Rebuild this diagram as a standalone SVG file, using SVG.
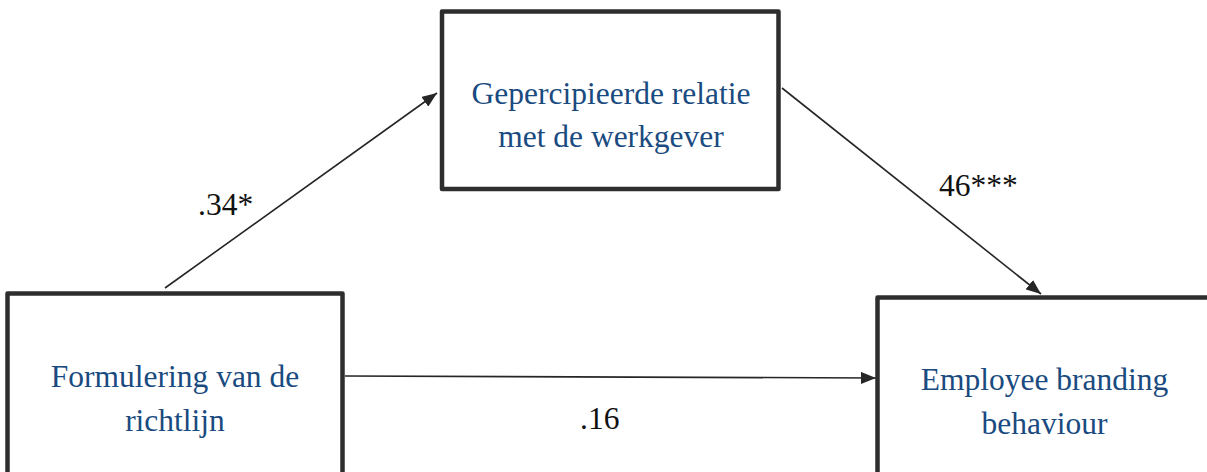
<svg xmlns="http://www.w3.org/2000/svg" width="1207" height="472" viewBox="0 0 1207 472">
<style>
.box{fill:#fff;stroke:#2e2e2e;stroke-width:4.5;stroke-linejoin:round}
.nt{font-family:"Liberation Serif","Times New Roman",serif;font-size:31.5px;fill:#1a4b80;text-anchor:middle}
.lb{font-family:"Liberation Serif","Times New Roman",serif;font-size:31.5px;fill:#111}
.cn{stroke:#262626;stroke-width:1.6;fill:none}
</style>
<defs>
<marker id="ah" markerUnits="userSpaceOnUse" markerWidth="16" markerHeight="12" refX="15" refY="6" orient="auto">
<path d="M0,0 L15,6 L0,12 z" fill="#262626"/>
</marker>
</defs>
<rect width="1207" height="472" fill="#fff"/>
<g id="connectors">
<line class="cn" x1="165" y1="288" x2="437" y2="93" marker-end="url(#ah)"/>
<line class="cn" x1="782" y1="88" x2="1041" y2="294" marker-end="url(#ah)"/>
<line class="cn" x1="345" y1="376" x2="876" y2="378" marker-end="url(#ah)"/>
</g>
<g id="node-formulering">
<rect class="box" x="7.5" y="293.5" width="335" height="190"/>
<text class="nt" x="175" y="387">Formulering van de</text>
<text class="nt" x="175" y="431">richtlijn</text>
</g>
<g id="node-relatie">
<rect class="box" x="442" y="11.5" width="336.5" height="177.5"/>
<text class="nt" x="611" y="103.5">Gepercipieerde relatie</text>
<text class="nt" x="611" y="146.5">met de werkgever</text>
</g>
<g id="node-ebb">
<rect class="box" x="877.5" y="297.5" width="345" height="190"/>
<text class="nt" x="1044.5" y="390">Employee branding</text>
<text class="nt" x="1044.5" y="433.5">behaviour</text>
</g>
<g id="labels">
<text class="lb" x="198" y="215">.34*</text>
<text class="lb" x="939" y="196">46***</text>
<text class="lb" x="580" y="428.5">.16</text>
</g>
</svg>
